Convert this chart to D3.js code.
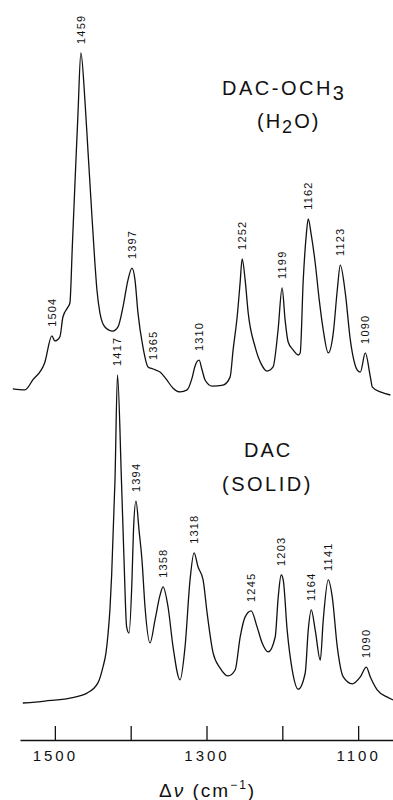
<html>
  <head>
    <style>
    body {
      margin: 0;
      background: #fff;
    }
    svg text {
      font-family: "Liberation Sans", "DejaVu Sans", sans-serif;
      fill: #111;
    }
    .trace {
      fill: none;
      stroke: #111;
      stroke-width: 1.3;
      stroke-linejoin: round;
    }
    .axis path, .axis line {
      stroke: #111;
      stroke-width: 1.3;
    }
    </style>
  </head>
  <body>
    <script src="https://d3js.org/d3.v7.min.js"></script>
    <script>
    var width = 393,
      height = 800;

    // DAC-OCH3 (H2O) trace, wavenumber (cm-1) and relative intensity
    var topWavenumber = [1555.5, 1539.6, 1529.1, 1513.2, 1504.0, 1500.0, 1493.4, 1489.4, 1482.8, 1480.2,
      1476.9, 1473.6, 1469.6, 1465.7, 1460.4, 1456.4, 1452.4, 1447.2, 1444.5, 1440.6,
      1434.0, 1423.4, 1416.8, 1410.2, 1403.6, 1398.3, 1394.3, 1390.4, 1383.8, 1377.1,
      1370.5, 1361.3, 1353.4, 1344.1, 1334.9, 1325.6, 1319.0, 1315.1, 1309.8, 1305.8,
      1301.9, 1292.6, 1278.1, 1268.8, 1264.9, 1259.6, 1255.6, 1253.0, 1249.0, 1245.0,
      1235.8, 1227.9, 1220.1, 1212.2, 1205.6, 1200.3, 1196.3, 1192.3, 1185.8, 1179.0,
      1176.4, 1172.4, 1168.4, 1165.8, 1161.8, 1156.6, 1151.3, 1146.0, 1139.4, 1132.8,
      1127.5, 1123.5, 1116.9, 1110.3, 1101.1, 1097.1, 1090.5, 1083.9, 1081.2, 1070.7, 1057.5];
    var topIntensity = [1.8, 1.5, 4.4, 9.6, 17.3, 15.8, 17.0, 22.8, 25.7, 26.9,
      43.9, 61.4, 81.9, 100, 86.3, 71.6, 57.0, 38.6, 30.7, 24.0,
      19.9, 18.7, 19.9, 25.7, 33.6, 37.1, 33.6, 24.0, 14.0, 8.2,
      7.6, 6.7, 4.7, 2.0, 0.9, 1.5, 5.0, 8.5, 10.2, 7.3,
      4.4, 2.6, 2.9, 5.3, 13.2, 22.8, 33.0, 39.8, 33.6, 24.0,
      14.0, 9.1, 7.0, 8.2, 19.0, 31.3, 21.9, 15.5, 13.2, 11.7,
      12.3, 33.6, 46.8, 51.5, 46.8, 38.6, 27.8, 19.0, 12.3, 18.1,
      30.7, 38.0, 29.8, 16.1, 7.3, 6.7, 12.3, 5.3, 2.3, 0.9, 0.0];

    // DAC (solid) trace
    var bottomWavenumber = [1542.3, 1513.2, 1480.2, 1457.7, 1443.2, 1436.6, 1432.6, 1430.0, 1427.3, 1425.1,
      1420.7, 1417.4, 1412.2, 1408.9, 1405.3, 1402.2, 1398.3, 1396.3, 1393.0, 1389.0,
      1385.1, 1381.1, 1374.5, 1367.9, 1361.3, 1357.3, 1350.7, 1344.1, 1334.9, 1328.3,
      1321.7, 1316.4, 1311.1, 1304.5, 1299.2, 1291.3, 1282.0, 1271.5, 1262.2, 1255.6,
      1249.0, 1241.1, 1233.2, 1226.6, 1218.6, 1209.4, 1205.4, 1201.5, 1198.8, 1193.6,
      1186.9, 1179.0, 1169.8, 1165.8, 1161.8, 1156.6, 1149.9, 1146.0, 1139.4, 1134.1,
      1127.5, 1119.6, 1107.7, 1097.1, 1089.2, 1083.9, 1074.6, 1061.4, 1053.5];
    var bottomIntensity = [0.6, 1.2, 2.1, 3.6, 6.7, 11.5, 15.8, 21.2, 29.2, 39.4,
      68.2, 100, 68.2, 44.8, 23.6, 21.8, 37.9, 53.0, 61.8, 53.0,
      43.9, 29.7, 18.8, 25.8, 33.3, 35.8, 29.7, 17.6, 7.6, 17.6,
      37.9, 46.1, 41.8, 37.9, 27.9, 15.8, 11.2, 8.8, 10.6, 20.6,
      26.7, 28.5, 23.6, 18.8, 16.1, 20.6, 32.7, 39.4, 37.9, 22.7,
      10.6, 4.8, 9.7, 22.7, 28.8, 22.7, 13.6, 25.8, 37.9, 32.7,
      17.6, 8.5, 6.4, 8.5, 11.5, 8.5, 4.5, 2.4, 1.5];

    var topPeakLabels = [1504, 1459, 1397, 1365, 1310, 1252, 1199, 1162, 1123, 1090];
    var bottomPeakLabels = [1417, 1394, 1358, 1318, 1245, 1203, 1164, 1141, 1090];

    var axisTicks = [1500, 1400, 1300, 1200, 1100];
    var axisTickLabels = ["1500", "", "1300", "", "1100"];

    var svg = d3.select("body").append("svg")
        .attr("width", width)
        .attr("height", height);

    var x = d3.scaleLinear().domain([1546, 1054]).range([20, 393]);
    var yTop = d3.scaleLinear().domain([0, 100]).range([395, 53]);
    var yBottom = d3.scaleLinear().domain([0, 100]).range([705, 375]);

    function drawTrace(wn, inten, y, labels) {
      var pts = wn.map(function(w, i){ return [w, inten[i]]; });
      var line = d3.line()
          .x(function(d){ return x(d[0]); })
          .y(function(d){ return y(d[1]); })
          .curve(d3.curveMonotoneX);

      svg.append("path")
          .datum(pts)
          .attr("class", "trace")
          .attr("d", line);

      // peak labels: sit above the highest traced point near the labelled value
      labels.forEach(function(v){
        var best = null;
        pts.forEach(function(p){
          if (Math.abs(p[0] - v) <= 9 && (!best || p[1] > best[1])) best = p;
        });
        svg.append("text")
            .attr("transform", "translate(" + x(best[0]) + "," + (y(best[1]) - 9) + ") rotate(-90)")
            .attr("dy", "0.35em")
            .style("font-size", "11px")
            .style("letter-spacing", "1.2px")
            .text(v);
      });
    }

    drawTrace(topWavenumber, topIntensity, yTop, topPeakLabels);
    drawTrace(bottomWavenumber, bottomIntensity, yBottom, bottomPeakLabels);

    // sample names
    var t1 = svg.append("text").attr("x", 222).attr("y", 95)
        .style("font-size", "20px").style("letter-spacing", "2.5px");
    t1.append("tspan").text("DAC-OCH");
    t1.append("tspan").attr("dy", 5).text("3");

    var t2 = svg.append("text").attr("x", 257).attr("y", 128)
        .style("font-size", "20px").style("letter-spacing", "2px");
    t2.append("tspan").text("(H");
    t2.append("tspan").attr("dy", 5).style("font-size", "18px").text("2");
    t2.append("tspan").attr("dy", -5).text("O)");

    svg.append("text").attr("x", 244).attr("y", 457)
        .style("font-size", "20px").style("letter-spacing", "2px")
        .text("DAC");
    svg.append("text").attr("x", 222).attr("y", 491)
        .style("font-size", "20px").style("letter-spacing", "2.5px")
        .text("(SOLID)");

    // axis, ticks point up from the line
    var axis = d3.axisBottom(x)
        .tickValues(axisTicks)
        .tickFormat(function(d, i){ return axisTickLabels[i]; })
        .tickSizeInner(-14)
        .tickSizeOuter(0)
        .tickPadding(10);

    var gAxis = svg.append("g")
        .attr("class", "axis")
        .attr("transform", "translate(0,740)")
        .call(axis);
    gAxis.selectAll("text")
        .style("font-size", "15px")
        .style("letter-spacing", "3px")
        .style("font-family", "Liberation Sans, DejaVu Sans, sans-serif")
        .attr("fill", "#111");

    var xt = svg.append("text").attr("x", 159).attr("y", 797)
        .style("font-size", "19px").style("letter-spacing", "2px");
    xt.append("tspan").text("\u0394");
    xt.append("tspan").style("font-style", "italic").text("\u03bd");
    xt.append("tspan").text(" (cm");
    xt.append("tspan").attr("dy", -8).style("font-size", "12px").text("\u22121");
    xt.append("tspan").attr("dy", 8).text(")");
    </script>
  </body>
</html>
